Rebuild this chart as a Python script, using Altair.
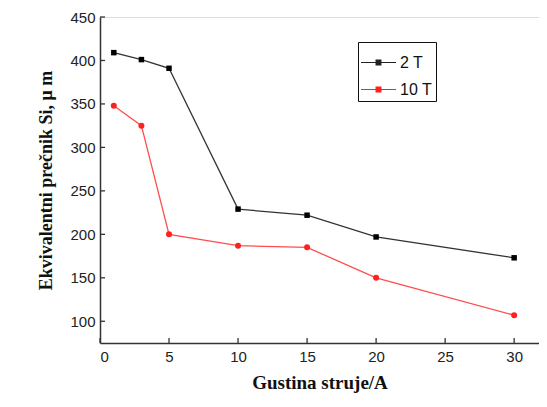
import altair as alt
import pandas as pd

x_vals = [1, 3, 5, 10, 15, 20, 30]
s2T = [409, 401, 391, 229, 222, 197, 173]
s10T = [348, 325, 200, 187, 185, 150, 107]
series_names = ["2 T", "10 T"]
colors = ["#000000", "#ff2020"]
line_colors = ["#333333", "#ff4d4d"]
x_ticks = [0, 5, 10, 15, 20, 25, 30]
y_ticks = [100, 150, 200, 250, 300, 350, 400, 450]

rows = []
for name, vals in zip(series_names, [s2T, s10T]):
    for xv, yv in zip(x_vals, vals):
        rows.append({"x": xv, "y": yv, "Series": name})
df = pd.DataFrame(rows)

W, H = 439, 326
xs = alt.Scale(domain=[0, 31.8], nice=False, zero=False)
ys = alt.Scale(domain=[75, 450], nice=False, zero=False)

X = alt.X("x:Q", scale=xs, axis=alt.Axis(values=x_ticks, title="Gustina struje/A", tickSize=0,
          labelFont="Liberation Sans", labelFontSize=15, labelColor="#222", labelPadding=6,
          titleFont="Liberation Serif", titleFontSize=19, titleFontWeight="bold", titleColor="#111",
          titlePadding=9, domainColor="#333", domainWidth=1.5, grid=False))
Y = alt.Y("y:Q", scale=ys, axis=alt.Axis(values=y_ticks, title="Ekvivalentni prečnik Si, μ m", tickSize=0,
          labelFont="Liberation Sans", labelFontSize=15, labelColor="#222", labelPadding=5,
          titleFont="Liberation Serif", titleFontSize=18, titleFontWeight="bold", titleColor="#111",
          titlePadding=14, domainColor="#333", domainWidth=1.5, grid=False))

base = alt.Chart(df)
lines = base.mark_line(strokeWidth=1.3).encode(
    x=X, y=Y,
    color=alt.Color("Series:N", scale=alt.Scale(domain=series_names, range=line_colors), legend=None),
)
pts2 = base.transform_filter(alt.datum.Series == "2 T").mark_point(
    shape="square", filled=True, size=30, color=colors[0], opacity=1).encode(x="x:Q", y="y:Q")
pts10 = base.transform_filter(alt.datum.Series == "10 T").mark_point(
    shape="circle", filled=True, size=36, color=colors[1], opacity=1).encode(x="x:Q", y="y:Q")

# legend glyph: a thin line with a marker in the middle (unit-square SVG path)
sq_path = "M-1,-0.035H1V0.035H-1ZM-0.17,-0.17H0.17V0.17H-0.17Z"

leg = alt.Legend(title=None, orient="none", legendX=258, legendY=25,
                 labelFont="Liberation Sans", labelFontSize=16, labelColor="#111",
                 symbolType=sq_path, symbolSize=1225, symbolOpacity=1, symbolStrokeWidth=0,
                 strokeColor="#111", padding=3, rowPadding=1)

legend_layer = base.mark_point(filled=True, size=0, opacity=1).encode(
    x="x:Q", y="y:Q",
    color=alt.Color("Series:N", scale=alt.Scale(domain=series_names, range=["#222222", "#ff2020"]), legend=leg),
)

x_tick_df = pd.DataFrame({"t": x_ticks})
y_tick_df = pd.DataFrame({"t": y_ticks})
xt = alt.Chart(x_tick_df).mark_rule(color="#333", strokeWidth=1.3).encode(
    x=alt.X("t:Q", scale=xs), y=alt.value(H - 5), y2=alt.value(H))
yt = alt.Chart(y_tick_df).mark_rule(color="#333", strokeWidth=1.3).encode(
    y=alt.Y("t:Q", scale=ys), x=alt.value(0), x2=alt.value(5))

chart = alt.layer(lines, pts2, pts10, legend_layer, xt, yt).resolve_scale(
    color="independent").properties(
    width=W, height=H, padding={"left": 92, "top": 9, "right": 0, "bottom": 56},
    autosize=alt.AutoSizeParams(type="none"),
).configure_view(stroke=None).configure(background="white")

chart.save("out.html", embed_options={"renderer": "svg", "actions": False})
